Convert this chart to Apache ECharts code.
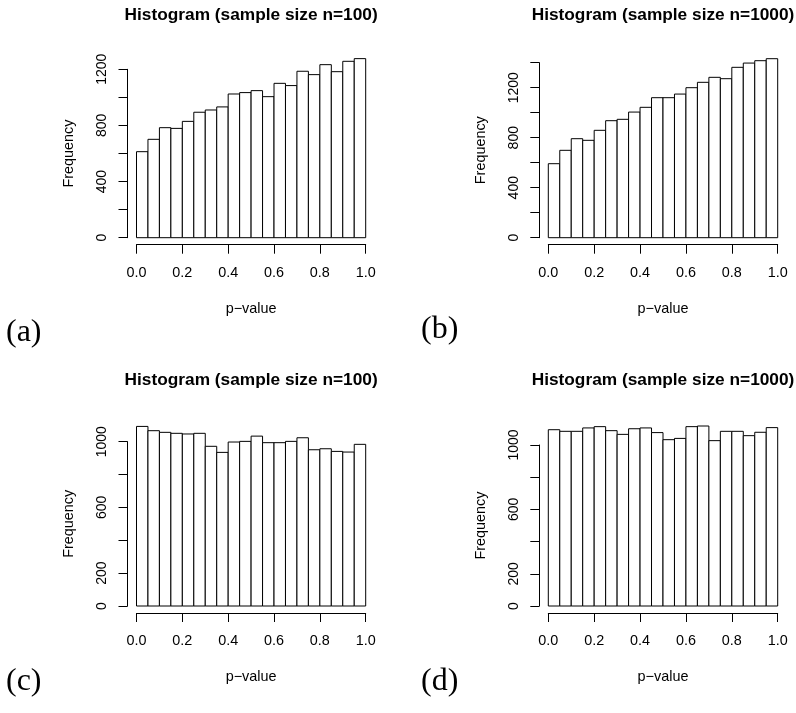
<!DOCTYPE html>
<html>
<head>
<meta charset="utf-8">
<script src="https://cdn.jsdelivr.net/npm/echarts@6/dist/echarts.min.js"></script>
<style>
  html, body { margin: 0; padding: 0; background: #fff; }
  #main { width: 796px; height: 713px; }
</style>
</head>
<body>
<div id="main"></div>
<script>
// bin edges of the p-value histograms (20 bins)
const breaks = [0, 0.05, 0.1, 0.15, 0.2, 0.25, 0.3, 0.35, 0.4, 0.45, 0.5,
  0.55, 0.6, 0.65, 0.7, 0.75, 0.8, 0.85, 0.9, 0.95, 1.0];

// counts
const countsA = [613, 701, 784, 779, 829, 894, 910, 932, 1024, 1034,
  1048, 1005, 1100, 1084, 1186, 1162, 1233, 1183, 1257, 1276];
const countsB = [592, 699, 792, 779, 859, 936, 947, 1005, 1043, 1120,
  1120, 1149, 1200, 1243, 1283, 1272, 1363, 1397, 1416, 1432];
const countsC = [1093, 1067, 1057, 1051, 1047, 1051, 972, 935, 998, 1002,
  1034, 994, 994, 1002, 1024, 951, 957, 941, 937, 984];
const countsD = [1095, 1085, 1085, 1106, 1114, 1089, 1066, 1101, 1106, 1077,
  1033, 1041, 1114, 1118, 1027, 1085, 1085, 1058, 1079, 1108];

const titles = ['Histogram (sample size n=100)', 'Histogram (sample size n=1000)',
  'Histogram (sample size n=100)', 'Histogram (sample size n=1000)'];
const tags = ['(a)', '(b)', '(c)', '(d)'];
const yMax = [1200, 1400, 1000, 1000];
const yLabelsShown = [[0, 400, 800, 1200], [0, 400, 800, 1200], [0, 200, 600, 1000], [0, 200, 600, 1000]];

const sansFont = '"Liberation Sans", Arial, sans-serif';

const panels = [
  { counts: countsA, left: 136.5, top: 69.3, width: 229.2, height: 168.4, tagX: 6, tagY: 317, titleTop: 7 },
  { counts: countsB, left: 548.3, top: 62.7, width: 229.4, height: 175, tagX: 421, tagY: 314, titleTop: 7 },
  { counts: countsC, left: 136.5, top: 441.7, width: 229.2, height: 164.3, tagX: 6, tagY: 666, titleTop: 372 },
  { counts: countsD, left: 548.3, top: 445, width: 229.4, height: 161, tagX: 421, tagY: 666, titleTop: 372 }
];

const chart = echarts.init(document.getElementById('main'), null, { renderer: 'canvas' });

const grid = [], xAxis = [], yAxis = [], series = [], title = [];

panels.forEach(function (p, i) {
  // plot grid (bars) and a thin grid just below it that carries the visible x axis,
  // detached from the bars like R's axis()
  const g = grid.length;
  grid.push({ left: p.left, top: p.top, width: p.width, height: p.height, containLabel: false });
  grid.push({ left: p.left, top: p.top + p.height + 6, width: p.width, height: 1, containLabel: false });

  const xi = xAxis.length;
  xAxis.push({
    type: 'value', gridIndex: g, min: 0, max: 1, show: false
  });
  xAxis.push({
    type: 'value', gridIndex: g + 1, min: 0, max: 1, interval: 0.2,
    name: 'p\u2212value', nameLocation: 'middle', nameGap: 57,
    nameTextStyle: { fontFamily: sansFont, fontSize: 14.4, color: '#000' },
    axisLine: { show: true, onZero: false, lineStyle: { color: '#000', width: 1 } },
    axisTick: { show: true, length: 9, lineStyle: { color: '#000' } },
    axisLabel: {
      fontFamily: sansFont, fontSize: 14.4, color: '#000', margin: 21,
      formatter: function (v) { return v.toFixed(1); }
    },
    splitLine: { show: false }
  });

  const shown = yLabelsShown[i];
  const yi = yAxis.length;
  yAxis.push({
    type: 'value', gridIndex: g, min: 0, max: yMax[i], interval: 200,
    offset: 9,
    name: 'Frequency', nameLocation: 'middle', nameGap: 51, nameRotate: 90,
    nameTextStyle: { fontFamily: sansFont, fontSize: 14.4, color: '#000' },
    axisLine: { show: true, onZero: false, lineStyle: { color: '#000', width: 1 } },
    axisTick: { show: true, length: 9, lineStyle: { color: '#000' } },
    axisLabel: {
      fontFamily: sansFont, fontSize: 14, color: '#000', margin: 18.5, rotate: 90,
      formatter: function (v) { return shown.indexOf(v) >= 0 ? String(v) : ''; }
    },
    splitLine: { show: false }
  });
  yAxis.push({ type: 'value', gridIndex: g + 1, min: 0, max: 1, show: false });

  const data = p.counts.map(function (c, k) { return [breaks[k], breaks[k + 1], c]; });
  series.push({
    type: 'custom', xAxisIndex: xi, yAxisIndex: yi, clip: false,
    data: data,
    renderItem: function (params, api) {
      const p0 = api.coord([api.value(0), api.value(2)]);
      const p1 = api.coord([api.value(1), 0]);
      return {
        type: 'rect',
        shape: { x: p0[0], y: p0[1], width: p1[0] - p0[0], height: p1[1] - p0[1] },
        style: { fill: '#fff', stroke: '#000', lineWidth: 1 }
      };
    }
  });

  title.push({
    text: titles[i], left: p.left + p.width / 2, top: p.titleTop,
    textAlign: 'center', padding: 0,
    textStyle: { fontFamily: sansFont, fontSize: 17.3, fontWeight: 'bold', color: '#000' }
  });
  title.push({
    text: tags[i], left: p.tagX, top: p.tagY, padding: 0,
    textStyle: { fontFamily: '"Liberation Serif", "DejaVu Serif", serif', fontSize: 32, fontWeight: 'normal', color: '#000' }
  });
});

chart.setOption({
  backgroundColor: '#fff',
  animation: false,
  title: title,
  grid: grid,
  xAxis: xAxis,
  yAxis: yAxis,
  series: series
});
</script>
</body>
</html>
